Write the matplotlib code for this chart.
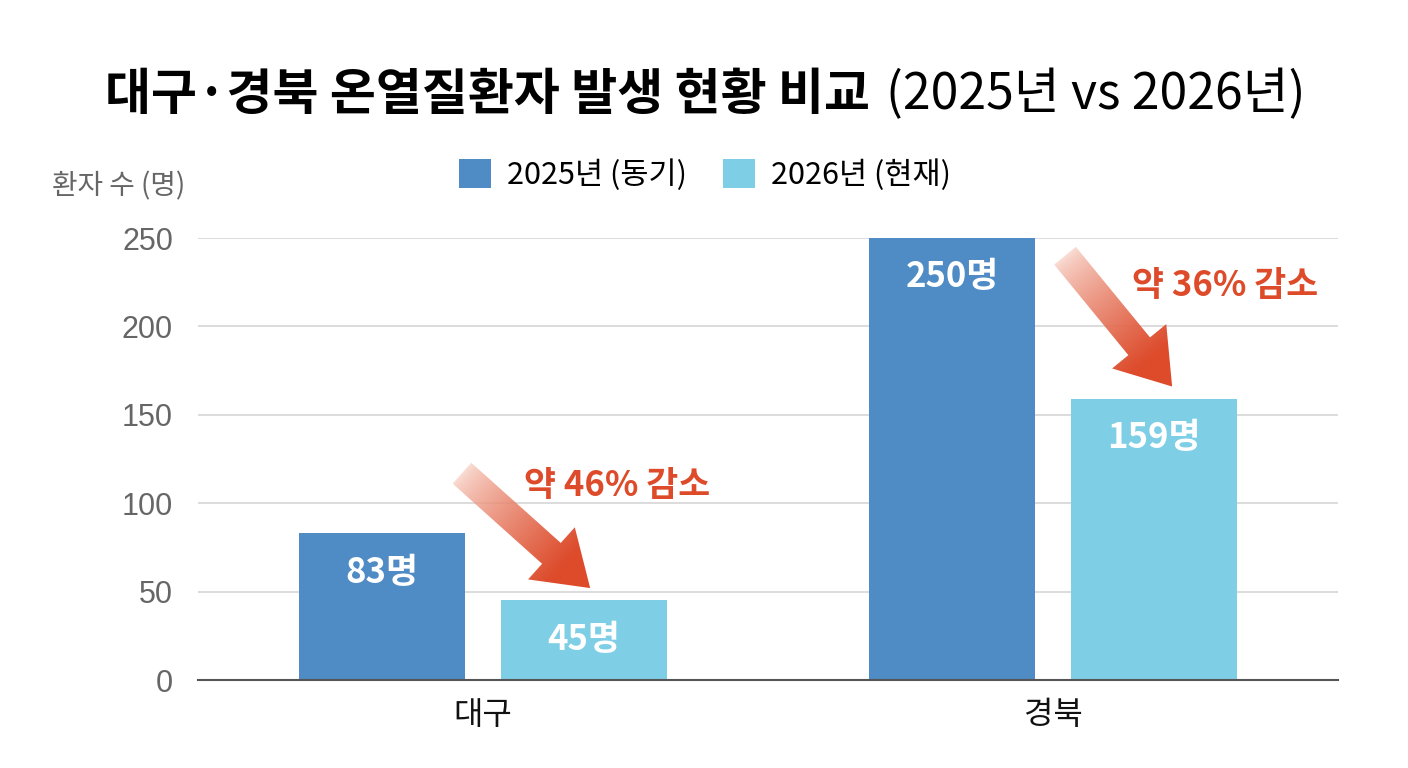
import matplotlib
matplotlib.use('Agg')
import matplotlib.pyplot as plt
import numpy as np
from matplotlib.patches import Polygon, Patch
from matplotlib.colors import to_rgb

plt.rcParams['font.family'] = ['Noto Sans CJK KR', 'DejaVu Sans']

# ---------------- data ----------------
regions = ['대구', '경북']
series_names = ['2025년 (동기)', '2026년 (현재)']
values_2025 = [83, 250]
values_2026 = [45, 159]
value_labels_2025 = ['83명', '250명']
value_labels_2026 = ['45명', '159명']
decrease_labels = ['약 46% 감소', '약 36% 감소']
yticks = [0, 50, 100, 150, 200, 250]
title_bold = '대구·경북 온열질환자 발생 현황 비교'
title_light = '(2025년 vs 2026년)'
y_label = '환자 수 (명)'

# ---------------- style ----------------
C1 = '#4F8BC4'
C2 = '#7ECFE6'
RED = '#DD4B2B'
W, H = 1408, 768

fig = plt.figure(figsize=(W / 100, H / 100), dpi=100)
fig.patch.set_facecolor('white')
ax = fig.add_axes([198 / W, 1 - 680 / H, (1338 - 198) / W, (680 - 238) / H])

x = np.arange(len(regions))
bw = 0.291
off = 0.177
b1 = ax.bar(x - off, values_2025, bw, color=C1, zorder=2)
b2 = ax.bar(x + off, values_2026, bw, color=C2, zorder=2)

ax.set_xlim(-0.5, 1.5)
ax.set_ylim(0, 250)
ax.set_yticks(yticks)
ax.set_xticks(x)
ax.set_xticklabels(regions)
ax.grid(axis='y', color='#d6d6d6', lw=1.2, zorder=0)
ax.set_axisbelow(True)
for s in ['top', 'right', 'left']:
    ax.spines[s].set_visible(False)
ax.spines['bottom'].set_color('#555555')
ax.spines['bottom'].set_linewidth(1.5)
ax.spines['bottom'].set_zorder(3)
ax.tick_params(axis='y', length=0, pad=18, labelsize=22, labelcolor='#666666')
ax.tick_params(axis='x', length=0, pad=14, labelsize=23, labelcolor='#111111')
for lab in ax.get_yticklabels():
    lab.set_family(['Liberation Sans', 'Noto Sans CJK KR'])

# value labels inside bars
for bars, labels in ((b1, value_labels_2025), (b2, value_labels_2026)):
    for rect, lab in zip(bars, labels):
        ax.annotate(lab, (rect.get_x() + rect.get_width() / 2, rect.get_height()),
                    xytext=(0, -28), textcoords='offset points', ha='center', va='center',
                    color='white', fontsize=25, fontweight='bold', zorder=4)


def gradient_arrow(ax, tail, tip, shaft_w=28, head_w=70, head_l=52,
                   c_start='#f8d2c6', c_end=RED):
    T = ax.transData
    p0 = T.transform(tail)
    p1 = T.transform(tip)
    d = p1 - p0
    L = np.hypot(*d)
    u = d / L
    n = np.array([-u[1], u[0]])
    base = p1 - u * head_l
    pts = [p0 + n * shaft_w / 2, base + n * shaft_w / 2, base + n * head_w / 2, p1,
           base - n * head_w / 2, base - n * shaft_w / 2, p0 - n * shaft_w / 2]
    pts_d = T.inverted().transform(np.array(pts))
    poly = Polygon(pts_d, closed=True, facecolor='none', edgecolor='none', transform=ax.transData)
    ax.add_patch(poly)
    x0, x1 = pts_d[:, 0].min(), pts_d[:, 0].max()
    y0, y1 = pts_d[:, 1].min(), pts_d[:, 1].max()
    nx = ny = 300
    GX, GY = np.meshgrid(np.linspace(x0, x1, nx), np.linspace(y0, y1, ny))
    P = T.transform(np.column_stack([GX.ravel(), GY.ravel()]))
    t = ((P - p0) @ u) / (L - head_l * 0.7)
    t = np.clip(t, 0, 1).reshape(ny, nx) ** 0.65
    cs = np.array(to_rgb(c_start))
    ce = np.array(to_rgb(c_end))
    rgba = np.zeros((ny, nx, 4))
    rgba[..., :3] = cs + (ce - cs) * t[..., None]
    rgba[..., 3] = 0.7 + 0.3 * t
    img = ax.imshow(rgba, extent=[x0, x1, y0, y1], origin='lower', aspect='auto',
                    zorder=3, interpolation='bilinear')
    img.set_clip_path(poly)


# arrows (tail/tip offsets relative to each region's centre, in data units)
arrow_tails = [(-0.037, 117), (0.021, 240)]
arrow_tips = [(0.188, 52), (0.209, 166)]
for i, (tl, tp) in enumerate(zip(arrow_tails, arrow_tips)):
    gradient_arrow(ax, (x[i] + tl[0], tl[1]), (x[i] + tp[0], tp[1]))
ax.set_xlim(-0.5, 1.5)
ax.set_ylim(0, 250)

# decrease texts (offsets relative to each region's centre)
dec_pos = [(0.235, 110), (0.302, 223)]
for i, ((px, py), lab) in enumerate(zip(dec_pos, decrease_labels)):
    ax.text(x[i] + px, py, lab, ha='center', va='center', color=RED, fontsize=25,
            fontweight='bold', zorder=5)

# y label
fig.text(52 / W, 1 - 186 / H, y_label, ha='left', va='center', fontsize=20, color='#666666')

# legend
handles = [Patch(facecolor=C1), Patch(facecolor=C2)]
fig.legend(handles, series_names, loc='center', bbox_to_anchor=(705 / W, 1 - 175 / H),
           ncol=2, frameon=False, fontsize=22, handlelength=1.05, handleheight=1.05,
           columnspacing=1.2, handletextpad=0.5)

# title (bold + regular)
ty = 1 - 95 / H
t1 = fig.text(0, ty, title_bold, ha='left', va='center', fontsize=36, fontweight='black', color='black')
t2 = fig.text(0, ty, title_light, ha='left', va='center', fontsize=36, fontweight='normal', color='black')
fig.canvas.draw()
r = fig.canvas.get_renderer()
w1 = t1.get_window_extent(r).width
w2 = t2.get_window_extent(r).width
gap = 16
total = w1 + gap + w2
start = 705 - total / 2
t1.set_x(start / W)
t2.set_x((start + w1 + gap) / W)

fig.savefig('out.png', dpi=100, facecolor='white')
